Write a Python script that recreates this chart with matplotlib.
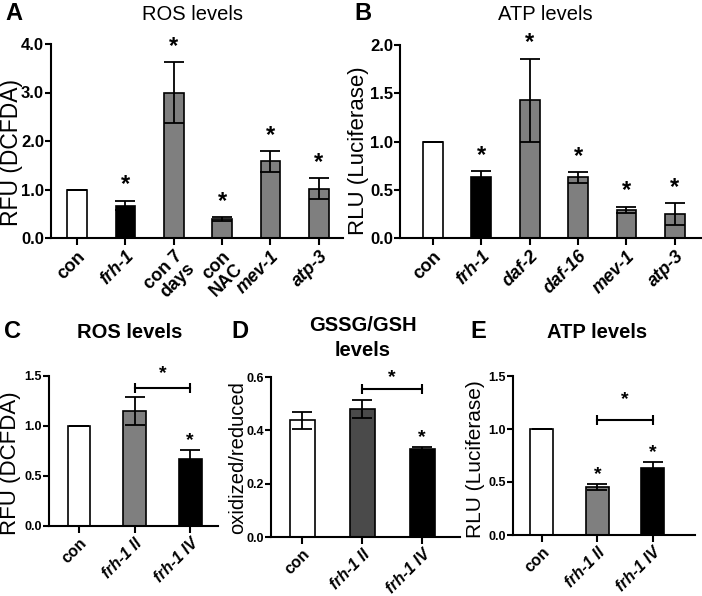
import numpy as np
import matplotlib.pyplot as plt

plt.rcParams['font.family'] = ['Liberation Sans', 'DejaVu Sans']
plt.rcParams['axes.linewidth'] = 1.5

W, H = 702, 596
GREY = '#7f7f7f'

# A: ROS levels
a_labels = ['con', 'frh-1', 'con 7\ndays', 'con\nNAC', 'mev-1', 'atp-3']
a_italic = [False, True, False, False, True, True]
a_vals = [1.0, 0.67, 3.0, 0.39, 1.58, 1.02]
a_err = [0.0, 0.10, 0.62, 0.04, 0.22, 0.22]
a_colors = ['white', 'black', GREY, GREY, GREY, GREY]
a_star = [False, True, True, True, True, True]
a_yticks = [0.0, 1.0, 2.0, 3.0, 4.0]

# B: ATP levels
b_labels = ['con', 'frh-1', 'daf-2', 'daf-16', 'mev-1', 'atp-3']
b_italic = [False, True, True, True, True, True]
b_vals = [1.0, 0.63, 1.43, 0.63, 0.29, 0.25]
b_err = [0.0, 0.06, 0.43, 0.055, 0.035, 0.115]
b_colors = ['white', 'black', GREY, GREY, GREY, GREY]
b_star = [False, True, True, True, True, True]
b_yticks = [0.0, 0.5, 1.0, 1.5, 2.0]

# C: ROS levels, frh-1 alleles
c_labels = ['con', 'frh-1 II', 'frh-1 IV']
c_italic = [False, True, True]
c_vals = [1.0, 1.15, 0.67]
c_err = [0.0, 0.14, 0.095]
c_colors = ['white', GREY, 'black']
c_star = [False, False, True]
c_yticks = [0.0, 0.5, 1.0, 1.5]
c_bracket = (1, 2, 1.38, 1.52)

# D: GSSG/GSH levels
d_labels = ['con', 'frh-1 II', 'frh-1 IV']
d_italic = [False, True, True]
d_vals = [0.437, 0.48, 0.331]
d_err = [0.032, 0.032, 0.007]
d_colors = ['white', '#4a4a4a', 'black']
d_star = [False, False, True]
d_yticks = [0.0, 0.2, 0.4, 0.6]
d_bracket = (1, 2, 0.555, 0.598)

# E: ATP levels, frh-1 alleles
e_labels = ['con', 'frh-1 II', 'frh-1 IV']
e_italic = [False, True, True]
e_vals = [1.0, 0.455, 0.63]
e_err = [0.0, 0.03, 0.06]
e_colors = ['white', GREY, 'black']
e_star = [False, True, True]
e_yticks = [0.0, 0.5, 1.0, 1.5]
e_bracket = (1, 2, 1.085, 1.28)


def px_rect(left, top, right, bottom):
    return [left / W, 1 - bottom / H, (right - left) / W, (bottom - top) / H]


def panel(fig, rect, xlim, yticks, labels, italic, vals, err, colors, stars,
          small=False, bracket=None):
    ax = fig.add_axes(px_rect(*rect))
    x = np.arange(len(vals))
    ax.bar(x, vals, width=0.41, color=colors, edgecolor='black', linewidth=1.2, zorder=2)
    ax.errorbar(x, vals, yerr=err, fmt='none', ecolor='black', elinewidth=1.3,
                capsize=7, capthick=1.3, zorder=3)
    ax.set_xlim(*xlim)
    ax.set_ylim(yticks[0], yticks[-1])
    ax.set_yticks(yticks)
    ax.set_yticklabels(['%.1f' % t for t in yticks], fontweight='bold',
                       fontsize=9 if small else 12)
    ax.set_xticks(x)
    ax.set_xticklabels(labels, rotation=45, ha='right', rotation_mode='anchor',
                       fontweight='bold', fontsize=11.5 if small else 13,
                       linespacing=1.0)
    for lab, it in zip(ax.get_xticklabels(), italic):
        if it:
            lab.set_fontstyle('italic')
    ax.tick_params(axis='y', width=1.5, length=4, pad=1)
    ax.tick_params(axis='x', width=1.5, length=5, pad=2)
    for s in ['top', 'right']:
        ax.spines[s].set_visible(False)
    sfs = 14 if small else 17
    off = 0.5 if small else 3
    for i, (v, e, s) in enumerate(zip(vals, err, stars)):
        if s:
            ax.annotate('*', xy=(i, v + e), xytext=(0, off), textcoords='offset points',
                        ha='center', va='bottom', fontsize=sfs, fontweight='bold')
    if bracket is not None:
        x1, x2, y, ys = bracket
        ax.plot([x1, x2], [y, y], color='black', lw=1.5, marker='|', ms=7,
                mew=1.5, clip_on=False, zorder=4)
        ax.text((x1 + x2) / 2, ys, '*', ha='center', va='center', fontsize=sfs,
                fontweight='bold')
    return ax


fig = plt.figure(figsize=(W / 100, H / 100), dpi=100)

panel(fig, (51, 44, 343, 238), (-0.54, 5.5), a_yticks, a_labels, a_italic, a_vals,
      a_err, a_colors, a_star)
panel(fig, (400, 45, 701, 238), (-0.68, 5.54), b_yticks, b_labels, b_italic, b_vals,
      b_err, b_colors, b_star)
panel(fig, (49, 376, 218, 526), (-0.54, 2.5), c_yticks, c_labels, c_italic, c_vals,
      c_err, c_colors, c_star, small=True, bracket=c_bracket)
panel(fig, (271, 377, 460, 537), (-0.52, 2.63), d_yticks, d_labels, d_italic, d_vals,
      d_err, d_colors, d_star, small=True, bracket=d_bracket)
panel(fig, (513, 376, 695, 535), (-0.52, 2.76), e_yticks, e_labels, e_italic, e_vals,
      e_err, e_colors, e_star, small=True, bracket=e_bracket)


def ftext(x, y, s, ha='center', **kw):
    fig.text(x / W, 1 - y / H, s, ha=ha, va='center', **kw)


# y axis labels
ftext(0, 152, 'RFU (DCFDA)', ha='left', rotation=90, fontsize=16.5)
ftext(348, 151, 'RLU (Luciferase)', ha='left', rotation=90, fontsize=16)
ftext(0, 463, 'RFU (DCFDA)', ha='left', rotation=90, fontsize=16)
ftext(228, 458, 'oxidized/reduced', ha='left', rotation=90, fontsize=14.5)
ftext(466, 459, 'RLU (Luciferase)', ha='left', rotation=90, fontsize=15)

# panel letters
ftext(14, 14, 'A', fontsize=17, fontweight='bold')
ftext(363, 14, 'B', fontsize=17, fontweight='bold')
ftext(12, 332, 'C', fontsize=17, fontweight='bold')
ftext(240, 332, 'D', fontsize=17, fontweight='bold')
ftext(478, 332, 'E', fontsize=17, fontweight='bold')

# titles
ftext(193, 14, 'ROS levels', fontsize=14.5)
ftext(545, 14, 'ATP levels', fontsize=14.5)
ftext(130, 333, 'ROS levels', fontsize=14.5, fontweight='bold')
ftext(363, 338, 'GSSG/GSH\nlevels', fontsize=14.5, fontweight='bold', linespacing=1.45)
ftext(597, 333, 'ATP levels', fontsize=14.5, fontweight='bold')

fig.savefig('out.png', dpi=100)
